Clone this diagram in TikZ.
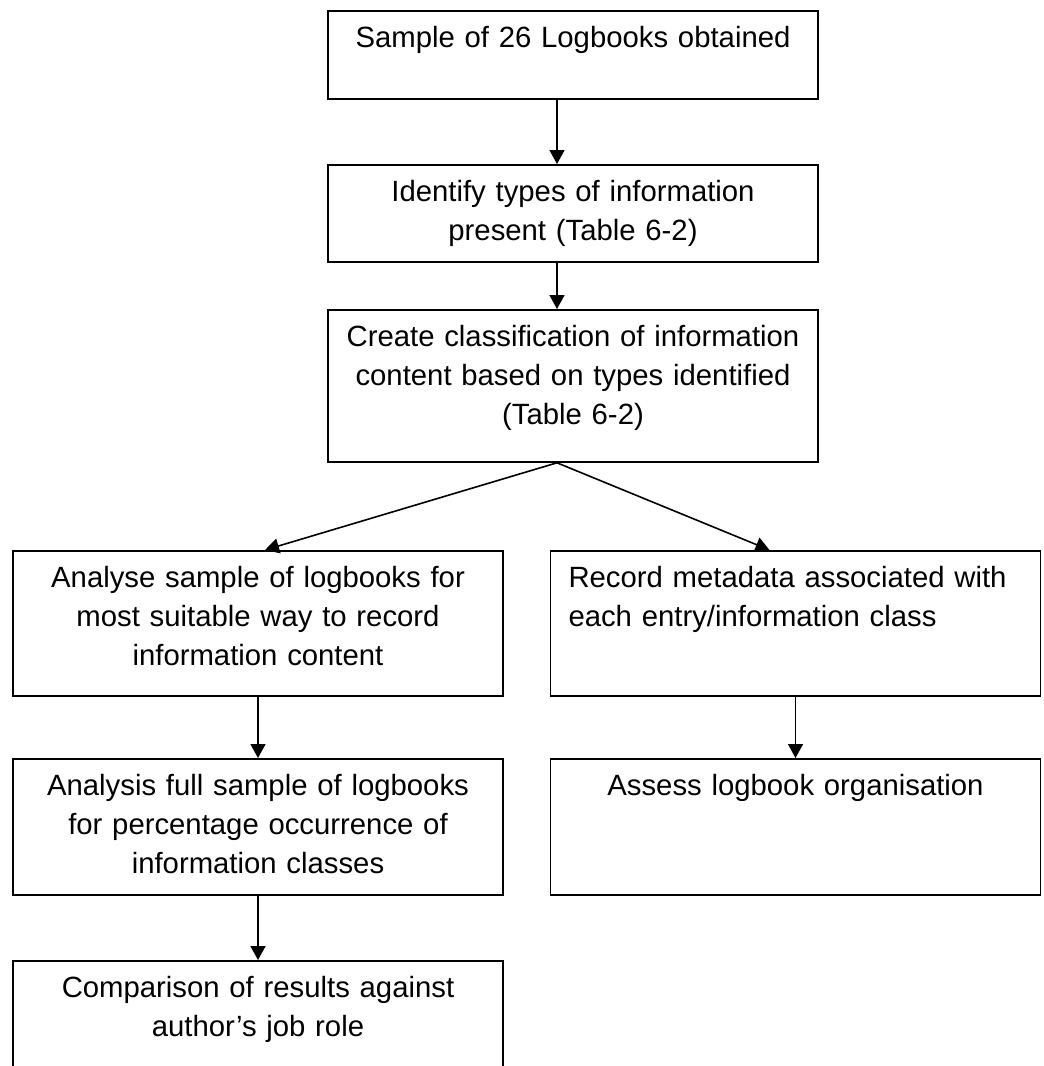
\documentclass[tikz,border=0pt]{standalone}
\usepackage{fontspec}
\setmainfont{Liberation Sans}
\usetikzlibrary{arrows.meta}

\begin{document}
\begin{tikzpicture}[yscale=-1,x=1pt,y=1pt,>={Triangle[length=14pt,width=15pt]}]
				\tikzstyle{stage} = [draw=black, line width=1.8pt, anchor=north, inner ysep=0pt, inner xsep=18pt, text width=454pt, align=center, text height=37pt, font=\fontsize{29.3}{39}\selectfont]
				\tikzstyle{flow} = [->, line width=1.6pt]
				\useasboundingbox (0,0) rectangle (1044,1066);
				\clip (0,0) rectangle (1044,1066);
				
				\node[stage, text depth=51pt] (Sample) at (573,10) {Sample of 26 Logbooks obtained};
				\node[stage, text depth=60pt] (Identify) at (573,164) {Identify types of information\\present (Table 6-2)};
				\node[stage, text depth=115pt] (Classify) at (573,309) {Create classification of information\\content based on types identified\\(Table 6-2)};
				\draw[flow] ([xshift=-16pt]Sample.south) -- ([xshift=-16pt]Identify.north);
				\draw[flow] ([xshift=-16pt]Identify.south) -- ([xshift=-16pt]Classify.north);
				
				\node[stage, text depth=108pt] (Analyse) at (258,550) {Analyse sample of logbooks for\\most suitable way to record\\information content};
				\node[stage, text depth=99pt] (Full) at (258,758) {Analysis full sample of logbooks\\for percentage occurrence of\\information classes};
				\node[stage, text depth=103pt] (Compare) at (258,960) {Comparison of results against\\author’s job role};
				\draw[flow] ([xshift=-16pt]Classify.south) -- ([xshift=7pt]Analyse.north);
				\draw[flow] (Analyse.south) -- (Full.north);
				\draw[flow] (Full.south) -- (Compare.north);
				
				\node[stage, align=left, text depth=108pt] (Metadata) at (795.5,550) {Record metadata associated with\\each entry/information class};
				\node[stage, text depth=99pt] (Organise) at (795.5,758) {Assess logbook organisation};
				\draw[flow] ([xshift=-16pt]Classify.south) -- ([xshift=-26pt]Metadata.north);
				\draw[flow] (Metadata.south) -- (Organise.north);
\end{tikzpicture}
\end{document}
